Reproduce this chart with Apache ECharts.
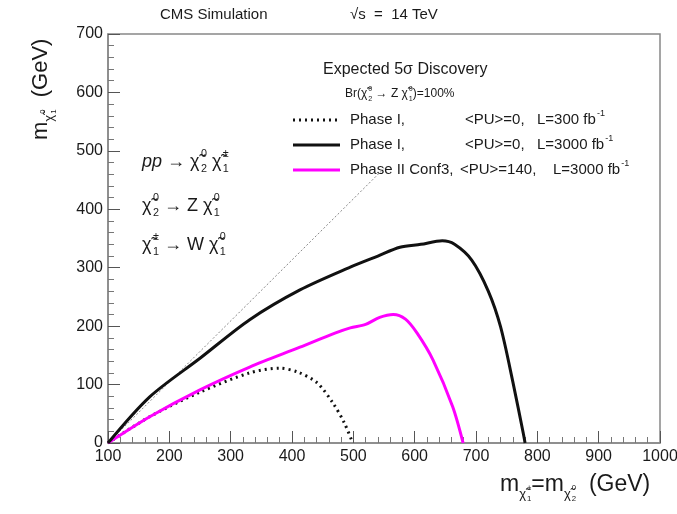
<!DOCTYPE html>
<html>
<head>
<meta charset="utf-8">
<script src="https://cdn.jsdelivr.net/npm/echarts@6/dist/echarts.min.js"></script>
<style>
  html, body { margin: 0; padding: 0; background: #fff; }
  #chart { width: 677px; height: 514px; }
</style>
</head>
<body>
<div id="chart"></div>
<script>
// ---- data ----
const xTicks = [100, 1000, 100];   // min, max, step
const yTicks = [0, 700, 100];

// Phase I, <PU>=0, L=300 fb-1 (dotted)
const dotX = [100, 168, 250, 331, 380, 410, 441, 467, 485, 499];
const dotY = [0, 45, 87, 120, 128, 121, 103, 68, 35, 0];

// Phase I, <PU>=0, L=3000 fb-1 (solid black)
const blackX = [100, 168, 250, 331, 413, 495, 540, 576, 610, 645, 665, 693, 720, 740, 760, 777, 780];
const blackY = [0, 79, 145, 211, 262, 301, 320, 335, 340, 346, 340, 313, 260, 199, 105, 17, 0];

// Phase II Conf3, <PU>=140, L=3000 fb-1 (magenta)
const magX = [100, 168, 250, 331, 413, 470, 495, 520, 543, 565, 585, 604, 630, 662, 679];
const magY = [0, 45, 91, 130, 164, 188, 197, 203, 215, 220, 212, 188, 142, 62, 0];

// kinematic diagonal
const diagX = [100, 550];
const diagY = [0, 470];

const FONT = '"Liberation Sans", Arial, sans-serif';
const INK = '#1a1a1a';
const CHI = '\u03C7\u0303';

function pairs(xs, ys) {
    return xs.map((x, i) => [x, ys[i]]);
}

// text width helper for the hand-built sub/superscript labels
const mctx = document.createElement('canvas').getContext('2d');
function tw(t, size, style) {
    mctx.font = (style || '') + ' ' + size + 'px ' + FONT;
    return mctx.measureText(t).width;
}
function txt(x, y, t, size, style) {
    return {
        type: 'text', x: x, y: y,
        style: {
            text: t, fill: INK, fontSize: size, fontFamily: FONT,
            fontStyle: style || 'normal', verticalAlign: 'middle', align: 'left'
        }
    };
}
// parts: {t, size, dy, sup, sub, style}
function mathText(x, y, parts, size, rotation) {
    const children = [];
    let cx = 0;
    parts.forEach(p => {
        const s = p.size || size;
        const dy = p.dy || 0;
        children.push(txt(cx, dy, p.t, s, p.style));
        const w = tw(p.t, s, p.style) + (p.sup || p.sub ? s * 0.08 : 0);
        let adv = 0;
        const ss = s * 0.6;
        if (p.sup) {
            children.push(txt(cx + w, dy - s * 0.45, p.sup, ss));
            adv = Math.max(adv, tw(p.sup, ss));
        }
        if (p.sub) {
            children.push(txt(cx + w, dy + s * 0.4, p.sub, ss));
            adv = Math.max(adv, tw(p.sub, ss));
        }
        cx += w + adv;
    });
    return { type: 'group', x: x, y: y, rotation: rotation || 0, children: children };
}

function legendRow(y, dash, color, c1, c2, x2, c3, x3) {
    return [
        { type: 'line', shape: { x1: 293, y1: y, x2: 340, y2: y },
          style: { stroke: color, lineWidth: 3, lineDash: dash } },
        txt(350, y, c1, 15),
        txt(x2, y, c2, 15),
        mathText(x3, y, [{ t: c3, sup: '-1' }], 15)
    ];
}

const graphics = [
    txt(160, 15, 'CMS Simulation', 15),
    mathText(350, 15, [{ t: '\u221As  =  14 TeV' }], 15),

    // y title (rotated)
    mathText(41, 140, [
        { t: 'm' },
        { t: CHI, size: 13, dy: 8, sup: '0', sub: '1' },
        { t: '  (GeV)' }
    ], 22, Math.PI / 2),

    // x title
    mathText(500, 485, [
        { t: 'm' },
        { t: CHI, size: 13, dy: 9, sup: '\u00B1', sub: '1' },
        { t: '=m' },
        { t: CHI, size: 13, dy: 9, sup: '0', sub: '2' },
        { t: '  (GeV)' }
    ], 23),

    // process text
    mathText(142, 162, [
        { t: 'pp', style: 'italic' }, { t: ' \u2192 ' },
        { t: CHI, sup: '0', sub: '2' }, { t: ' ' }, { t: CHI, sup: '\u00B1', sub: '1' }
    ], 18),
    mathText(142, 206, [
        { t: CHI, sup: '0', sub: '2' }, { t: ' \u2192 Z ' }, { t: CHI, sup: '0', sub: '1' }
    ], 18),
    mathText(142, 245, [
        { t: CHI, sup: '\u00B1', sub: '1' }, { t: ' \u2192 W ' }, { t: CHI, sup: '0', sub: '1' }
    ], 18),

    // legend
    txt(323, 70, 'Expected 5\u03C3 Discovery', 16),
    mathText(345, 94, [
        { t: 'Br(' }, { t: CHI, sup: '0', sub: '2' }, { t: ' \u2192 Z ' },
        { t: CHI, sup: '0', sub: '1' }, { t: ')=100%' }
    ], 12)
].concat(
    legendRow(120, [2, 4], '#111', 'Phase I,', '<PU>=0,', 465, 'L=300 fb', 537),
    legendRow(145, null, '#111', 'Phase I,', '<PU>=0,', 465, 'L=3000 fb', 537),
    legendRow(170, null, '#ff00ff', 'Phase II Conf3,', '<PU>=140,', 460, 'L=3000 fb', 553)
);

function axis(t, margin) {
    return {
        type: 'value', min: t[0], max: t[1], interval: t[2],
        axisLine: { show: true, lineStyle: { color: '#888', width: 1.5 } },
        axisTick: { show: true, inside: true, length: 12, lineStyle: { color: '#555' } },
        minorTick: { show: true, splitNumber: 5, length: 6, lineStyle: { color: '#777' } },
        axisLabel: {
            color: INK, fontSize: 16, fontFamily: FONT, margin: margin,
            showMinLabel: true, showMaxLabel: true,
            formatter: v => String(v)
        },
        splitLine: { show: false }
    };
}

const option = {
    animation: false,
    backgroundColor: '#fff',
    grid: {
        left: 108, right: 17, top: 34, bottom: 71,
        show: true, borderColor: '#888', borderWidth: 1.5,
        outerBoundsMode: 'none'
    },
    xAxis: axis(xTicks, 6),
    yAxis: axis(yTicks, 5),
    series: [
        {
            name: 'diag', type: 'line', data: pairs(diagX, diagY), showSymbol: false,
            lineStyle: { color: '#888', width: 1, type: [2, 2] }, z: 1
        },
        {
            name: 'Phase I, L=300', type: 'line', data: pairs(dotX, dotY), showSymbol: false,
            smooth: 0.3,
            lineStyle: { color: '#111', width: 3, type: [2, 4] }
        },
        {
            name: 'Phase II Conf3', type: 'line', data: pairs(magX, magY), showSymbol: false,
            smooth: 0.3,
            lineStyle: { color: '#ff00ff', width: 3 }
        },
        {
            name: 'Phase I, L=3000', type: 'line', data: pairs(blackX, blackY), showSymbol: false,
            smooth: 0.3,
            lineStyle: { color: '#111', width: 3 }
        }
    ],
    graphic: graphics
};

const chart = echarts.init(document.getElementById('chart'));
chart.setOption(option);
</script>
</body>
</html>
